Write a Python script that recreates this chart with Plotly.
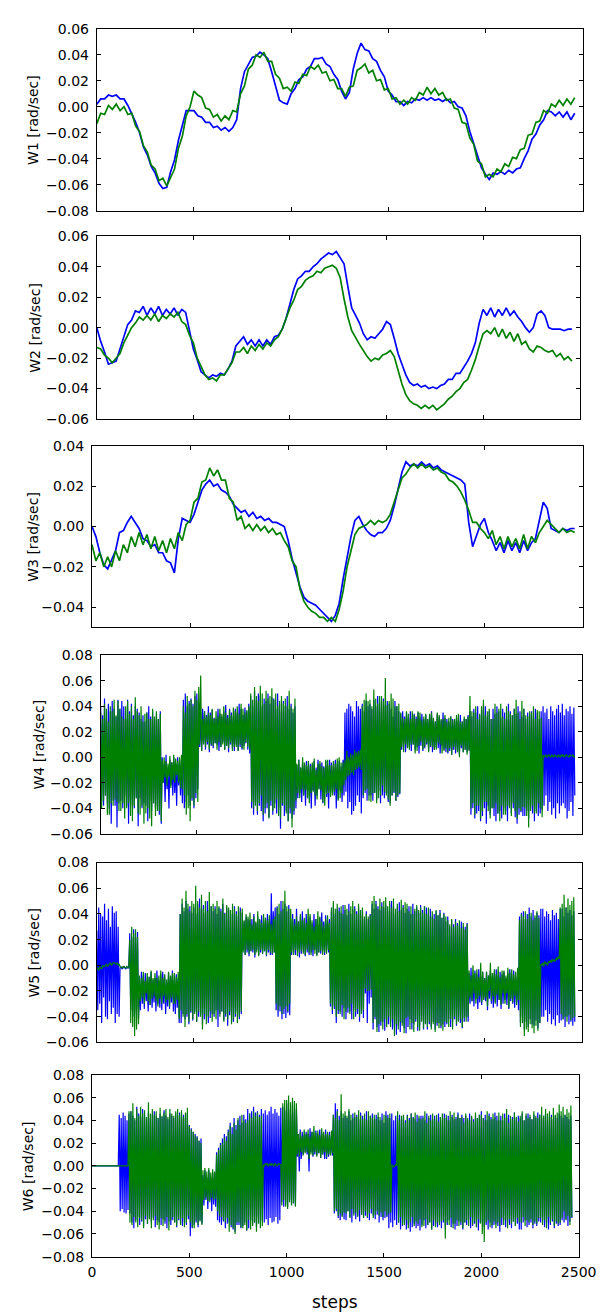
import plotly.graph_objects as go

# ---------------- data (values in 1e-3 rad/sec) ----------------
# Panels W1-W3 sampled every 20 steps, W4-W6 every 5 steps
W1_blue = [2,6,6,9,8,9,6,6,1,-5,
           -12,-20,-31,-37,-46,-51,-59,-63,-62,-50,
           -41,-26,-15,-3,-3,-3,-7,-8,-12,-12,
           -16,-15,-18,-16,-19,-16,-10,14,27,33,
           38,39,42,40,37,27,16,5,3,2,
           10,14,21,23,29,31,37,37,38,33,
           31,25,21,12,6,11,29,41,49,44,
           43,37,35,28,23,12,9,4,4,1,
           4,3,6,5,7,5,7,5,6,4,
           6,3,4,0,-1,-7,-19,-29,-38,-47,
           -52,-56,-51,-52,-50,-52,-49,-51,-48,-47,
           -40,-34,-25,-21,-14,-10,-3,-4,-7,-4,
           -8,-4,-10,-5]
W1_green = [-13,-5,-6,1,-2,2,-3,0,-6,-5,
            -15,-19,-30,-35,-45,-48,-57,-55,-61,-54,
            -48,-32,-23,-7,0,12,9,7,-1,-2,
            -8,-6,-11,-7,-10,-3,-4,10,16,29,
            32,40,38,42,35,35,25,22,14,15,
            12,19,18,25,24,31,29,32,26,27,
            20,21,14,14,8,15,16,28,30,33,
            26,28,20,21,13,14,6,7,2,5,
            2,7,5,11,9,15,10,14,9,11,
            5,6,-1,-2,-12,-13,-24,-29,-42,-44,
            -54,-52,-54,-48,-50,-44,-46,-39,-40,-33,
            -32,-22,-21,-12,-11,-3,-5,2,0,5,
            1,6,2,7]
W2_blue = [0,-9,-16,-24,-23,-22,-14,-6,2,5,
           11,10,14,8,13,9,14,8,12,9,
           13,8,12,10,-2,-14,-21,-29,-31,-33,
           -31,-32,-30,-31,-27,-22,-12,-9,-6,-11,
           -8,-12,-8,-12,-8,-11,-6,-5,-1,6,
           16,25,32,34,37,37,40,42,45,47,
           49,48,50,46,42,27,13,8,3,-4,
           -8,-6,-7,-4,-1,4,2,-7,-17,-24,
           -31,-36,-38,-37,-39,-38,-40,-39,-40,-38,
           -37,-34,-34,-30,-30,-26,-22,-17,-10,3,
           12,8,13,7,12,8,13,8,11,7,
           4,0,-3,0,9,11,8,0,-1,-1,
           -1,-2,-1,-1]
W2_green = [-13,-14,-18,-20,-23,-20,-17,-10,-5,0,
            3,7,5,8,5,9,4,8,6,9,
            7,10,4,2,-5,-10,-20,-25,-31,-34,
            -33,-35,-31,-31,-27,-23,-16,-16,-13,-17,
            -12,-15,-11,-14,-10,-12,-8,-6,-1,6,
            13,18,25,27,31,33,34,37,36,39,
            40,41,39,33,19,7,-2,-7,-11,-15,
            -19,-22,-20,-21,-18,-17,-15,-19,-28,-37,
            -44,-48,-50,-51,-53,-51,-53,-51,-54,-52,
            -50,-47,-45,-42,-40,-36,-34,-28,-21,-12,
            -4,-2,-4,0,-6,-1,-7,-3,-9,-4,
            -11,-9,-14,-16,-12,-13,-15,-16,-15,-19,
            -17,-21,-19,-22]
W3_blue = [0,-5,-13,-19,-21,-16,-12,-3,-2,2,
           5,2,-1,-6,-7,-10,-9,-13,-13,-17,
           -18,-23,-6,4,3,2,6,12,18,21,
           23,20,21,18,17,15,11,9,7,8,
           5,7,4,5,3,4,2,2,1,0,
           -7,-16,-23,-30,-35,-37,-38,-39,-41,-43,
           -45,-47,-44,-38,-26,-15,-5,3,5,1,
           -2,-4,-5,-3,-3,-1,3,10,19,27,
           32,30,31,30,32,30,31,29,30,28,
           27,26,25,24,23,21,2,-10,-5,1,
           4,-3,-7,-12,-8,-13,-7,-12,-8,-13,
           -7,-12,-8,-6,3,12,9,-1,-2,-3,
           -1,-2,-1,-1]
W3_green = [-9,-17,-13,-20,-15,-20,-12,-17,-9,-13,
            -5,-10,-3,-9,-4,-11,-5,-12,-7,-13,
            -6,-11,-3,-7,1,3,12,14,22,23,
            29,25,28,23,23,14,12,3,5,-1,
            1,-2,1,-2,0,-3,-1,-4,-3,-7,
            -10,-17,-20,-31,-37,-40,-42,-43,-45,-45,
            -47,-45,-47,-41,-32,-20,-12,-4,-1,0,
            1,3,1,3,2,3,6,12,18,24,
            26,29,31,29,31,29,30,28,29,27,
            26,23,22,20,17,13,8,2,2,-1,
            -3,-6,-2,-9,-5,-11,-5,-10,-6,-11,
            -4,-11,-5,-8,-3,0,3,1,-1,-3,
            -1,-3,-2,-3]

W4_blue = [40,-35,33,-38,46,-30,30,-36,42,-40,36,-52,44,-34,38,-38,32,-55,45,-36,
           38,-34,44,-40,40,-30,30,-38,45,-52,36,-36,42,-38,33,-40,40,-32,38,-54,
           35,-32,30,-40,33,-36,28,-38,35,-50,40,-34,32,-42,36,-36,30,-40,34,-38,
           30,-45,36,-52,0,-20,-5,-35,2,-25,-8,-40,-2,-22,-4,-30,0,-28,-6,-38,
           0,-22,-5,-30,-2,-36,45,-40,50,-35,40,-30,44,-38,46,-34,42,-40,48,-32,
           50,-25,35,8,32,5,38,12,36,6,33,10,40,4,35,9,37,7,31,11,
           30,10,38,5,34,8,32,12,36,6,41,9,33,4,38,10,35,7,32,5,
           38,10,35,5,42,8,38,6,33,9,39,11,36,6,42,3,48,-40,40,-45,
           52,-35,45,-45,50,-38,48,-42,40,-50,46,-44,44,-40,50,-47,42,-38,47,-45,
           46,-36,38,-44,50,-40,42,-56,36,-38,44,-46,40,-42,48,-50,38,-44,42,-48,
           35,-45,40,-40,-6,-32,-2,-28,-8,-35,-4,-30,-6,-38,-3,-26,-7,-33,-5,-40,
           -6,-26,-3,-38,-8,-30,-2,-25,-5,-33,-4,-36,-7,-28,-3,-31,-6,-40,-2,-27,
           -4,-28,-6,-30,-2,-40,-5,-33,-3,-26,-7,-35,-2,-30,35,-27,38,-40,42,-35,
           40,-45,36,-42,32,-38,44,-30,40,-35,38,-44,42,-32,36,-28,44,-34,40,-30,
           42,-30,38,-34,45,-28,40,-33,48,-26,43,-36,39,-30,46,-32,41,-28,44,-35,
           42,-36,38,-30,32,-28,44,-34,40,-31,36,-29,34,6,36,10,32,4,35,8,
           32,8,36,5,30,10,34,6,32,8,35,3,31,9,34,5,30,7,33,10,
           30,5,33,8,36,4,30,6,28,8,34,7,32,3,29,9,35,6,31,4,
           30,3,28,5,32,2,30,6,28,3,31,5,29,2,33,7,28,4,30,6,
           30,4,33,6,36,-45,32,-40,38,-48,35,-44,40,-42,33,-50,37,-46,42,-40,
           40,-52,32,-38,36,-45,30,-40,38,-46,34,-50,40,-44,36,-42,31,-48,38,-40,
           35,-42,30,-50,42,-38,36,-44,33,-40,38,-47,34,-52,40,-45,36,-43,32,-46,
           38,-46,30,-42,35,-48,34,-40,36,-44,32,-50,38,-42,35,-46,30,-44,36,-41,
           40,-38,35,-30,38,-42,30,-35,40,-45,36,-40,33,-48,38,-36,41,-44,35,-38,
           42,-36,33,-40,38,-48,36,-42,40,-35,34,-46,39,-30]
W4_green = [35,-40,30,-34,42,-30,38,-45,28,-45,40,-36,36,-38,45,-33,33,-35,44,-42,
            38,-42,32,-36,30,-48,40,-40,44,-36,34,-46,40,-50,30,-38,47,-32,36,-44,
            33,-45,40,-38,28,-52,34,-44,35,-40,30,-48,30,-54,38,-36,32,-46,36,-42,
            30,-42,34,-50,-2,-20,0,-16,-3,-22,-5,-15,1,-24,-4,-18,2,-20,-1,-14,
            -3,-20,0,-24,2,-25,40,-30,35,-45,48,-40,42,-50,45,-32,40,-38,52,-28,
            45,-35,55,10,64,5,30,10,36,8,32,12,35,6,33,10,38,9,30,11,
            36,6,32,12,38,8,34,10,40,6,35,9,31,7,37,11,33,5,39,8,
            36,8,40,5,34,10,42,7,38,6,35,12,37,8,40,6,50,-35,45,-40,
            55,-38,48,-42,44,-36,56,-30,50,-45,42,-40,52,-36,46,-48,48,-34,54,-42,
            45,-40,50,-33,40,-46,44,-48,48,-36,42,-38,46,-44,40,-50,52,-40,40,-55,
            38,-42,46,-34,-5,-28,-2,-32,-8,-25,0,-30,-4,-26,-6,-32,-3,-36,-7,-28,
            -4,-27,-1,-30,-10,-33,-5,-25,-3,-26,-7,-35,-8,-38,-2,-29,-2,-28,-6,-31,
            -6,-30,-3,-27,-5,-25,-1,-34,0,-32,-4,-28,-4,-22,-2,-18,5,-15,0,-14,
            3,-12,2,-14,6,-10,4,-9,5,-8,6,-10,40,-30,45,-26,50,-25,44,-34,
            45,-35,40,-28,53,-28,46,-36,42,-32,48,-30,48,-22,44,-27,62,-30,41,-33,
            44,-38,50,-30,46,-27,40,-34,40,-30,42,-28,35,8,31,4,30,10,36,7,
            34,6,30,10,36,10,33,3,30,5,36,9,35,12,29,6,32,8,34,11,
            30,4,34,9,35,8,31,6,28,6,35,11,33,10,30,3,30,5,33,7,
            28,4,31,7,32,2,29,8,30,6,33,4,34,0,28,9,28,4,32,6,
            30,2,32,5,48,-40,36,-36,35,-45,40,-38,30,-38,34,-48,40,-42,45,-35,
            33,-35,36,-42,38,-48,30,-40,30,-40,42,-36,35,-44,38,-50,42,-38,32,-45,
            30,-45,40,-38,36,-40,34,-46,33,-36,38,-42,45,-48,35,-40,30,-42,44,-39,
            38,-40,33,-46,32,-55,36,-42,35,-38,40,-44,30,-44,37,-36,36,-40,31,-47,
            2,0,1,2,0,1,2,1,0,2,1,0,2,1,1,0,2,1,0,2,
            1,2,0,1,2,1,1,0,2,1,1,2,0,1]
W5_blue = [27,-35,45,-30,40,-45,38,-25,48,-40,35,-42,44,-28,30,-38,46,-33,41,-45,
           42,-38,30,-40,-2,-1,-3,-2,-1,-2,-3,-1,-2,-2,25,-35,22,-40,28,-38,
           22,-35,26,-42,-15,-35,-5,-30,-8,-34,-6,-28,-12,-36,-9,-31,-5,-33,-11,-29,
           -10,-36,-4,-30,-12,-33,-7,-35,-5,-30,-8,-38,-13,-32,-6,-34,-9,-29,-4,-36,
           -12,-38,-7,-33,-10,-45,40,-45,48,-38,42,-42,50,-40,44,-46,46,-37,41,-43,
           45,-36,40,-44,48,-40,52,-38,44,-46,47,-42,41,-39,50,-45,43,-41,46,-38,
           42,-40,46,-35,40,-48,45,-38,44,-36,48,-43,41,-40,45,-47,43,-39,40,-44,
           40,-44,46,-40,42,-36,38,-42,45,-38,41,12,34,8,38,10,36,7,35,11,
           36,10,40,6,33,12,38,8,35,10,39,9,34,11,37,7,40,10,36,8,
           56,8,42,10,45,-35,46,-40,40,-36,50,-42,44,-38,48,-41,42,-37,47,-39,
           35,8,40,10,36,8,44,12,34,6,38,9,42,11,35,7,40,10,33,8,
           38,10,33,7,40,12,36,8,32,10,37,9,41,11,34,8,39,12,35,10,
           36,-32,42,-38,46,-34,40,-45,44,-38,45,-36,41,-40,47,-33,43,-42,39,-37,
           48,-36,40,-42,44,-35,46,-40,42,-38,45,-44,40,-36,43,-41,36,-22,42,-45,
           36,-30,40,-25,48,-50,44,-42,50,-48,46,-52,43,-47,49,-44,45,-51,47,-46,
           42,-46,48,-44,50,-50,46,-48,40,-54,45,-47,49,-52,43,-45,47,-49,41,-53,
           44,-48,46,-42,40,-50,48,-46,42,-44,45,-51,41,-47,47,-43,43,-50,46,-45,
           45,-50,40,-46,44,-48,38,-44,40,-50,42,-47,39,-45,43,-49,37,-46,41,-48,
           34,-46,38,-42,30,-48,35,-44,32,-42,36,-47,33,-43,31,-45,34,-49,30,-44,
           30,-40,33,-44,-6,-30,-2,-28,-8,-32,-4,-26,-7,-34,-3,-29,-9,-31,-5,-27,
           -10,-28,-5,-35,-8,-26,-4,-30,-9,-33,-6,-29,-3,-32,-8,-27,-5,-34,-7,-30,
           -5,-27,-10,-31,-6,-34,-3,-28,-7,-30,-4,-33,-9,-29,-6,-35,38,-45,41,-40,
           42,-50,36,-44,40,-48,45,-42,38,-46,43,-47,37,-43,41,-49,39,-45,44,-40,
           44,-40,38,-35,42,-44,40,-38,35,-46,43,-42,39,-47,41,-39,36,-45,44,-43,
           44,-42,38,-48,45,-40,41,-46,43,-44,39,-47,42,-44]
W5_green = [-3,-2,-4,-1,-2,-3,0,-1,-1,0,1,-1,0,1,2,0,1,2,2,1,
            1,2,0,1,-1,-2,-2,-1,-1,-2,-2,-1,-2,-1,20,-45,30,-48,25,-55,
            28,-50,22,-46,-8,-28,-10,-25,-5,-30,-12,-22,-6,-28,-9,-31,-4,-26,-10,-24,
            -6,-28,-10,-32,-8,-26,-4,-30,-10,-24,-7,-29,-11,-27,-5,-32,-8,-25,-6,-30,
            -6,-30,-9,-27,-5,-42,40,-35,52,-40,45,-48,58,-38,48,-44,42,-36,50,-42,
            48,-38,62,-44,50,-36,45,-40,55,-50,44,-38,50,-46,42,-40,57,-36,46,-44,
            48,-38,44,-42,50,-35,46,-40,42,-36,52,-44,40,-38,47,-42,45,-36,43,-46,
            48,-42,44,-38,40,-45,46,-40,42,-36,44,10,35,8,40,12,38,9,41,11,
            32,12,38,8,34,10,42,7,36,12,33,9,40,11,37,8,35,12,39,10,
            32,9,36,10,38,-30,45,-35,48,-32,42,-38,50,-34,58,-32,46,-36,44,-30,
            44,10,36,8,32,12,38,7,34,10,40,11,35,9,37,8,33,12,44,10,
            40,8,35,12,30,9,36,7,42,10,38,11,34,8,31,10,36,9,39,12,
            33,-30,45,-35,50,-32,44,-40,48,-35,42,-38,46,-31,40,-42,47,-36,44,-33,
            42,-38,46,-30,50,-42,44,-36,40,-34,48,-40,43,-38,45,-35,38,-18,40,-20,
            38,-20,39,-19,50,-45,54,-40,48,-52,44,-46,52,-44,46,-50,50,-42,53,-48,
            46,-40,50,-48,45,-42,52,-55,44,-46,48,-50,42,-44,51,-47,45,-53,49,-41,
            48,-40,42,-50,46,-45,40,-52,44,-42,47,-48,43,-51,45,-44,41,-49,46,-46,
            40,-48,45,-44,38,-50,42,-46,36,-52,43,-45,39,-49,41,-47,37,-51,40,-44,
            38,-45,35,-48,32,-42,36,-50,30,-40,34,-46,31,-44,35,-42,29,-48,33,-41,
            28,-44,32,-40,-4,-25,-8,-28,0,-22,-6,-30,-3,-26,-9,-24,2,-29,-5,-27,
            -10,-25,-5,-32,-8,-20,2,-28,-6,-24,-3,-30,-7,-23,-1,-27,-9,-31,-4,-22,
            -4,-30,-8,-22,-2,-33,-6,-26,-3,-29,-7,-24,-5,-31,-2,-27,35,-48,40,-45,
            38,-55,42,-50,36,-52,40,-46,41,-49,35,-53,39,-47,42,-51,37,-45,1,0,
            2,-1,3,1,2,0,3,2,4,2,5,3,4,3,6,4,7,5,45,-38,
            48,-42,55,-40,45,-44,52,-39,47,-43,50,-41,53,-40]
W6_blue = [0,0,0,0,0,0,0,0,0,0,0,0,0,0,0,0,0,0,0,0,
           0,0,0,0,0,0,0,0,45,-40,42,-38,47,-41,44,-42,40,-39,46,-42,
           48,-50,44,-55,40,-48,52,-45,46,-52,43,-49,50,-53,45,-47,41,-51,47,-46,
           42,-50,45,-46,48,-54,44,-48,42,-50,46,-52,43,-47,49,-51,44,-55,41,-49,
           46,-52,44,-48,42,-50,46,-54,44,-48,47,-51,43,-53,45,-49,42,-52,46,-47,
           36,-62,33,-55,30,-52,28,-50,26,-54,22,-48,24,-51,-8,-35,-4,-30,-10,-38,
           -4,-30,-10,-40,-6,-34,-8,-36,12,-48,16,-50,20,-52,24,-49,28,-55,26,-51,
           32,-50,38,-54,34,-56,42,-58,36,-52,40,-52,44,-55,38,-53,45,-50,41,-57,
           50,-55,46,-48,48,-52,52,-50,47,-54,48,-45,45,-51,50,-48,46,-50,49,-47,
           45,-52,48,-46,52,-50,46,-49,50,-45,47,-51,44,-48,51,-32,52,-36,49,-34,
           55,-36,50,-30,45,-34,53,-33,47,-35,50,8,28,-5,32,6,30,10,27,12,
           30,10,28,-5,33,12,30,8,26,10,31,9,28,11,32,7,29,10,27,6,
           32,6,28,8,30,10,26,9,45,-42,55,-40,50,-46,44,-48,48,-44,42,-47,
           44,-48,42,-40,48,-45,40,-50,46,-42,43,-47,45,-44,41,-49,47,-43,44,-46,
           42,-44,48,-46,40,-48,44,-42,46,-44,41,-47,45,-43,43,-50,40,-45,46,-48,
           38,-46,48,-45,45,-55,42,-50,46,-54,40,-48,44,-52,42,-50,45,-56,41,-53,
           44,-50,40,-56,45,-52,42,-58,46,-54,43,-51,41,-55,45,-53,42,-57,44,-52,
           44,-48,40,-55,46,-52,42,-50,45,-56,41,-53,44,-51,40,-54,46,-50,43,-55,
           40,-50,46,-55,42,-52,44,-48,40,-54,45,-51,41,-56,43,-53,47,-49,42,-52,
           45,-56,42,-50,44,-52,40,-48,46,-55,43,-53,41,-51,44,-54,42,-57,45,-50,
           48,-50,42,-54,45,-52,40,-56,46,-50,43,-55,41,-52,47,-51,44,-53,40,-58,
           44,-52,40,-48,46,-54,42,-50,45,-52,41,-55,43,-49,47,-53,42,-51,44,-56,
           42,-56,46,-50,40,-48,44,-54,46,-52,43,-50,41,-55,45,-51,42,-53,47,-49,
           45,-50,42,-48,44,-54,46,-50,40,-56,43,-52,45,-49,41,-55,44,-51,42,-53,
           46,-52,44,-48,42,-50,45,-47,43,-53,41,-49,44,-46]
W6_green = [0,0,0,0,0,0,0,0,0,0,0,0,0,0,0,0,0,0,0,0,
            0,0,0,0,0,0,0,0,0,0,0,0,0,0,0,0,0,0,48,-50,
            48,-52,55,-45,42,-50,50,-54,44,-46,52,-48,46,-55,49,-44,43,-51,56,-47,
            46,-55,50,-48,45,-44,48,-52,42,-56,51,-46,44,-53,47,-49,50,-45,43,-57,
            50,-48,46,-45,44,-50,48,-53,50,-47,45,-52,49,-46,43,-54,47,-50,51,-44,
            35,-50,32,-54,30,-55,27,-48,25,-52,22,-49,20,-52,-4,-30,-2,-28,-5,-31,
            -2,-32,-6,-28,-3,-30,-5,-29,10,-40,14,-44,18,-45,20,-48,25,-50,22,-46,
            30,-58,35,-52,28,-55,38,-60,32,-50,42,-50,36,-54,45,-55,40,-52,38,-57,
            40,-48,46,-56,42,-53,48,-50,44,-58,47,-51,43,-55,44,-53,1,0,2,1,
            2,0,1,2,0,2,1,0,2,1,0,1,2,1,1,-35,55,-30,58,-36,
            58,-38,62,-32,56,-35,60,-33,57,-36,55,10,28,8,30,12,26,9,32,11,
            28,12,32,6,26,10,30,9,35,12,29,8,31,11,27,7,33,10,30,12,
            28,8,30,10,27,9,31,11,45,-40,42,-38,48,-44,40,-42,63,-45,46,-41,
            48,-42,44,-40,50,-46,45,-38,42,-44,47,-41,43,-45,49,-39,44,-43,41,-46,
            46,-40,40,-45,48,-42,44,-38,42,-46,45,-43,41,-40,47,-44,43,-41,40,-45,
            45,-40,44,-44,42,-42,46,-41,1,0,-1,0,1,0,48,-50,40,-45,44,-52,
            45,-52,38,-48,44,-55,40,-50,46,-45,42,-53,47,-49,39,-51,44,-47,41,-54,
            42,-53,48,-47,38,-52,44,-50,40,-56,46,-48,41,-54,45,-50,39,-52,43,-49,
            46,-48,42,-64,45,-50,40,-52,48,-46,43,-55,47,-51,41,-48,45,-53,42,-50,
            43,-55,38,-50,46,-48,42,-53,40,-45,44,-52,39,-49,47,-54,42,-47,45,-51,
            45,-60,42,-67,40,-50,48,-48,44,-54,41,-52,46,-49,43,-55,40,-50,47,-53,
            40,-46,46,-52,42,-48,50,-55,38,-47,44,-51,41,-49,47,-53,43,-46,39,-50,
            44,-50,48,-45,40,-53,46,-48,42,-50,45,-47,41,-52,48,-49,44,-51,42,-46,
            45,-46,52,-52,44,-48,50,-55,46,-45,48,-50,43,-47,51,-53,45,-49,47,-51,
            54,-50,48,-46,52,-40,45,-48,50,-44,47,-52,53,-45]

series = [(W1_blue, W1_green, 20), (W2_blue, W2_green, 20), (W3_blue, W3_green, 20),
          (W4_blue, W4_green, 5), (W5_blue, W5_green, 5), (W6_blue, W6_green, 5)]
y_titles = ["W1 [rad/sec]", "W2 [rad/sec]", "W3 [rad/sec]",
            "W4 [rad/sec]", "W5 [rad/sec]", "W6 [rad/sec]"]
y_ranges = [(-0.08, 0.06), (-0.06, 0.06), (-0.05, 0.04),
            (-0.06, 0.08), (-0.06, 0.08), (-0.08, 0.08)]
y_tick_lo = [-0.08, -0.06, -0.04, -0.06, -0.06, -0.08]
x_ticks = [0, 500, 1000, 1500, 2000, 2500]

# ---------------- layout geometry (pixels) ----------------
W, H = 606, 1313
boxes = [(88, 592, 13, 197), (88, 589, 223, 408), (83, 592, 435, 619),
         (92, 591, 647, 828), (88, 591, 857, 1039), (83, 588, 1072, 1256)]
title_x = [21, 24, 21, 27, 23, 16]

BLUE, GREEN = "#0000ff", "#008000"
fig = go.Figure()
layout = dict(width=W, height=H, margin=dict(l=0, r=0, t=0, b=0),
              paper_bgcolor="white", plot_bgcolor="white", showlegend=False,
              font=dict(family="DejaVu Sans", size=14, color="black"))
annotations = []

def fmt(v):
    s = f"{v:.2f}"
    if s.startswith("-"):
        s = "\u2212" + s[1:]
    return s

for k, ((b, g, dx), (l, r, t, bt)) in enumerate(zip(series, boxes), start=1):
    xs_b = [dx * i for i in range(len(b))]
    xs_g = [dx * i for i in range(len(g))]
    ax = "" if k == 1 else str(k)
    lw = 1.7 if k <= 3 else 1.2
    fig.add_trace(go.Scatter(x=xs_b, y=[v / 1000 for v in b], mode="lines",
                             line=dict(color=BLUE, width=lw),
                             xaxis="x" + ax, yaxis="y" + ax, hoverinfo="skip"))
    fig.add_trace(go.Scatter(x=xs_g, y=[v / 1000 for v in g], mode="lines",
                             line=dict(color=GREEN, width=lw),
                             xaxis="x" + ax, yaxis="y" + ax, hoverinfo="skip"))
    lo, hi = y_ranges[k - 1]
    tv = []
    v = y_tick_lo[k - 1]
    while v <= hi + 1e-9:
        tv.append(round(v, 2))
        v += 0.02
    common = dict(ticks="inside", ticklen=4, tickwidth=1, tickcolor="black",
                  mirror="ticks", showline=True, linecolor="black", linewidth=1,
                  showgrid=False, zeroline=False, fixedrange=True,
                  tickfont=dict(family="DejaVu Sans", size=14, color="black"))
    layout["xaxis" + ax] = dict(domain=[l / W, r / W], range=[0, 2500],
                                tickvals=x_ticks, ticktext=[str(t) for t in x_ticks],
                                showticklabels=(k == 6), anchor="y" + ax,
                                ticklabelstandoff=3, **common)
    layout["yaxis" + ax] = dict(domain=[1 - bt / H, 1 - t / H], range=[lo, hi],
                                tickvals=tv, ticktext=[fmt(x) for x in tv],
                                anchor="x" + ax, ticklabelstandoff=4, **common)
    annotations.append(dict(text=y_titles[k - 1], x=title_x[k - 1] / W,
                            y=1 - (t + bt) / 2 / H, xref="paper", yref="paper",
                            textangle=-90, showarrow=False, xanchor="center",
                            yanchor="middle",
                            font=dict(family="DejaVu Sans", size=14, color="black")))

annotations.append(dict(text="steps", x=335 / W, y=1 - 1302 / H, xref="paper",
                        yref="paper", showarrow=False, xanchor="center",
                        yanchor="middle",
                        font=dict(family="DejaVu Sans", size=17, color="black")))
layout["annotations"] = annotations
fig.update_layout(**layout)
fig.write_html("out.html")
